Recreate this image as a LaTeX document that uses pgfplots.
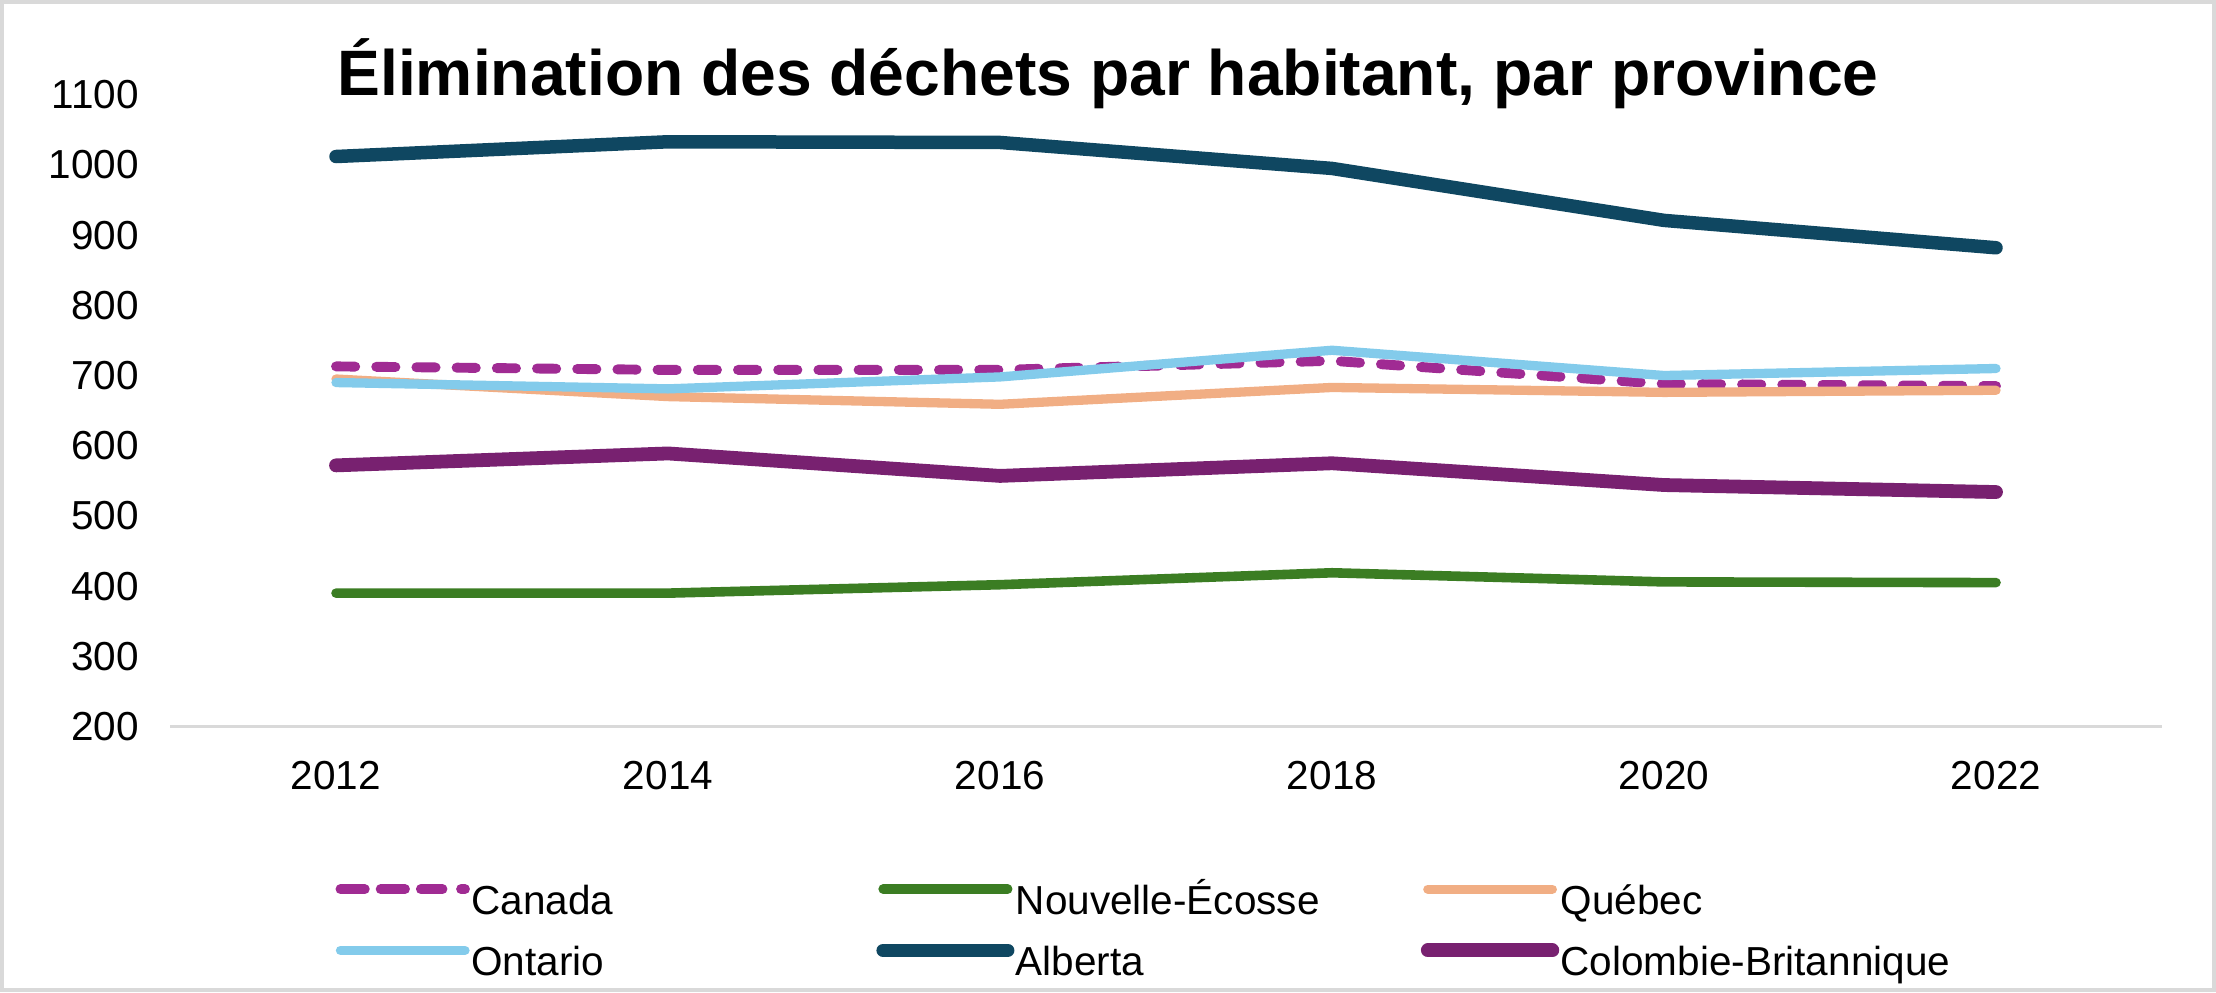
\documentclass[border=0pt]{standalone}
\usepackage{fontspec}
\setmainfont{Liberation Sans}
\usepackage{pgfplots}
\pgfplotsset{compat=1.18}

\definecolor{canada}{HTML}{A02B93}
\definecolor{nsgreen}{HTML}{3B7D23}
\definecolor{quebec}{HTML}{F1AE84}
\definecolor{ontario}{HTML}{83CBEB}
\definecolor{alberta}{HTML}{0F4761}
\definecolor{cb}{HTML}{782170}
\definecolor{axisgray}{HTML}{D9D9D9}

\newcommand{\lbl}[1]{\makebox[135bp][l]{#1}}

\begin{document}
\begin{tikzpicture}
\useasboundingbox (0,0) rectangle (738.67bp,330.67bp);
\draw[axisgray, line width=1.2bp] (0.6bp,0.6bp) rectangle (738.07bp,330.07bp);
\node[anchor=base, inner sep=0pt, font=\fontsize{21.4bp}{25bp}\selectfont\bfseries]
  at (369.33bp,298.7bp) {Élimination des déchets par habitant, par province};
\begin{axis}[
  at={(56.67bp,88.5bp)}, anchor=south west,
  scale only axis, width=664bp, height=210.6bp,
  xmin=2011, xmax=2023, ymin=200, ymax=1100,
  xtick={2012,2014,2016,2018,2020,2022},
  ytick={200,300,400,500,600,700,800,900,1000,1100},
  major tick length=0pt,
  axis x line*=bottom, axis y line*=left,
  x axis line style={draw=axisgray, line width=0.9bp},
  y axis line style={draw=none},
  ticklabel style={font=\fontsize{13.5bp}{16bp}\selectfont},
  /pgf/number format/assume math mode=true,
  /pgf/number format/1000 sep={},
  xticklabel style={yshift=-8.2bp},
  yticklabel style={xshift=-6.8bp},
  clip=false,
  legend columns=3,
  legend cell align=left,
  legend style={at={(0.0783,-0.239)}, anchor=north west, draw=none, fill=none,
    font=\fontsize{13.5bp}{16bp}\selectfont,
    nodes={inner sep=0pt, text height=10bp, text depth=3bp},
    row sep=6.8bp, column sep=0pt,
    /tikz/every odd column/.append style={column sep=0.5bp}},
  legend image code/.code={
    \path (0bp,4.8bp) -- (41.5bp,4.8bp);
    \draw[#1, line cap=round] (1.7bp,4.8bp) -- (34bp,4.8bp);},
  every axis plot/.append style={line cap=round, line join=round},
]
\addplot[canada, line width=3.3bp, dash pattern=on 6.4bp off 7bp] coordinates {
  (2012,713) (2014,708) (2016,708) (2018,721) (2020,688) (2022,685)};
\addlegendentry{\lbl{Canada}}
\addplot[nsgreen, line width=3.2bp] coordinates {
  (2012,390) (2014,390) (2016,402) (2018,419) (2020,406) (2022,405)};
\addlegendentry{\lbl{Nouvelle-Écosse}}
\addplot[quebec, line width=3.1bp] coordinates {
  (2012,695) (2014,670) (2016,659) (2018,683) (2020,676) (2022,679)};
\addlegendentry{\lbl{Québec}}
\addplot[ontario, line width=3.1bp] coordinates {
  (2012,690) (2014,681) (2016,698) (2018,736) (2020,700) (2022,710)};
\addlegendentry{\lbl{Ontario}}
\addplot[alberta, line width=4.5bp] coordinates {
  (2012,1012) (2014,1033) (2016,1032) (2018,995) (2020,921) (2022,882)};
\addlegendentry{\lbl{Alberta}}
\addplot[cb, line width=4.6bp] coordinates {
  (2012,572) (2014,589) (2016,557) (2018,575) (2020,544) (2022,534)};
\addlegendentry{\lbl{Colombie-Britannique}}
\end{axis}
\end{tikzpicture}
\end{document}
